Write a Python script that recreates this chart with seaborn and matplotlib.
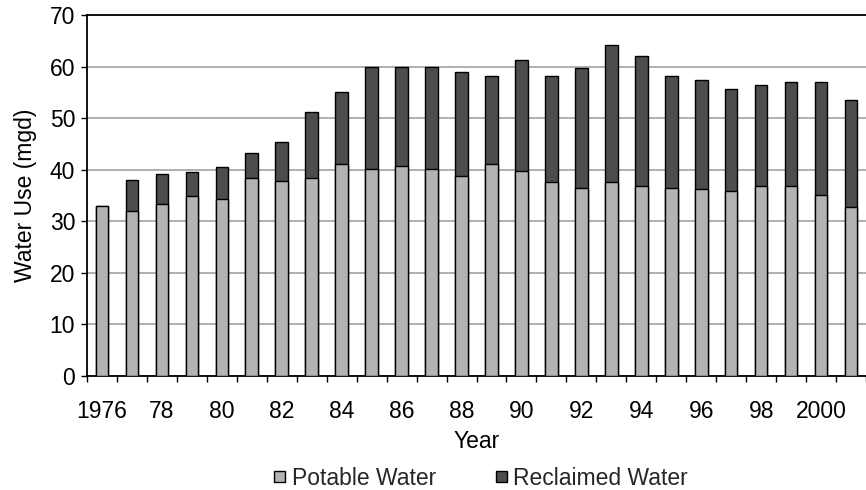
import numpy as np
import pandas as pd
import seaborn as sns
import matplotlib.pyplot as plt
from matplotlib.patches import Patch
from matplotlib.ticker import FixedLocator

# Annual water use, million gallons per day
years = list(range(1976, 2002))
potable = [33.0, 32.0, 33.3, 35.0, 34.3, 38.3, 37.9, 38.3, 41.1, 40.1,
           40.8, 40.1, 38.7, 41.1, 39.7, 37.6, 36.5, 37.6, 36.9, 36.5,
           36.2, 35.8, 36.9, 36.9, 35.1, 32.7]
reclaimed = [0.0, 6.0, 5.8, 4.5, 6.2, 5.0, 7.5, 12.8, 13.9, 19.9,
             19.2, 19.9, 20.2, 17.1, 21.6, 20.6, 23.2, 26.6, 25.2, 21.7,
             21.2, 19.9, 19.5, 20.2, 22.0, 20.9]
tick_labels = ["1976", "", "78", "", "80", "", "82", "", "84", "", "86", "",
               "88", "", "90", "", "92", "", "94", "", "96", "", "98", "",
               "2000", ""]

POTABLE_COLOR = "#b3b3b3"
RECLAIMED_COLOR = "#4d4d4d"
FS = 16.5

sns.set_theme(style="white")
plt.rcParams["font.family"] = ["Liberation Sans", "DejaVu Sans"]

df = pd.DataFrame({
    "year": [str(y) for y in years],
    "potable": potable,
    "reclaimed": reclaimed,
})
df["total"] = df["potable"] + df["reclaimed"]

fig = plt.figure(figsize=(8.66, 4.90), dpi=100)
ax = fig.add_axes([87 / 866, 114 / 490, 779 / 866, 361 / 490])

# Stacked bars: full height in dark, potable portion laid over it
sns.barplot(data=df, x="year", y="total", color=RECLAIMED_COLOR, saturation=1,
            width=0.42, edgecolor="black", linewidth=1.0, ax=ax, zorder=3)
sns.barplot(data=df, x="year", y="potable", color=POTABLE_COLOR, saturation=1,
            width=0.42, edgecolor="black", linewidth=1.0, ax=ax, zorder=4)

ax.set_xlim(-0.5, len(years) - 0.5)
ax.set_ylim(0, 70)
ax.set_yticks(range(0, 71, 10))
ax.yaxis.grid(True, color="#a9a9a9", linewidth=1.3, zorder=0)
ax.set_axisbelow(True)

for side in ["left", "top", "bottom"]:
    ax.spines[side].set_visible(True)
    ax.spines[side].set_color("black")
    ax.spines[side].set_linewidth(1.3)
ax.spines["right"].set_visible(False)

ax.set_xticks(range(len(years)))
ax.set_xticklabels(tick_labels)
ax.xaxis.set_minor_locator(FixedLocator(np.arange(-0.5, len(years), 1.0)))
ax.tick_params(axis="x", which="major", length=0, pad=17.5, labelsize=FS,
               colors="black")
ax.tick_params(axis="x", which="minor", bottom=True, direction="out",
               length=4.5, width=1.0, color="black")
ax.tick_params(axis="y", which="major", left=True, direction="out",
               length=4.5, width=1.0, pad=4, labelsize=FS, colors="black")

ax.set_xlabel("Year", fontsize=FS, labelpad=5, color="black")
ax.set_ylabel("Water Use (mgd)", fontsize=FS, labelpad=9, color="black")

handles = [
    Patch(facecolor=POTABLE_COLOR, edgecolor="black", linewidth=1.0,
          label="Potable Water"),
    Patch(facecolor=RECLAIMED_COLOR, edgecolor="black", linewidth=1.0,
          label="Reclaimed Water"),
]
fig.legend(handles=handles, loc="center",
           bbox_to_anchor=(481 / 866, 1 - 478 / 490),
           ncol=2, frameon=False, fontsize=FS, handlelength=0.48,
           handleheight=0.36, handletextpad=0.28, columnspacing=2.6,
           borderaxespad=0, borderpad=0)

fig.savefig("out.png", dpi=100)
